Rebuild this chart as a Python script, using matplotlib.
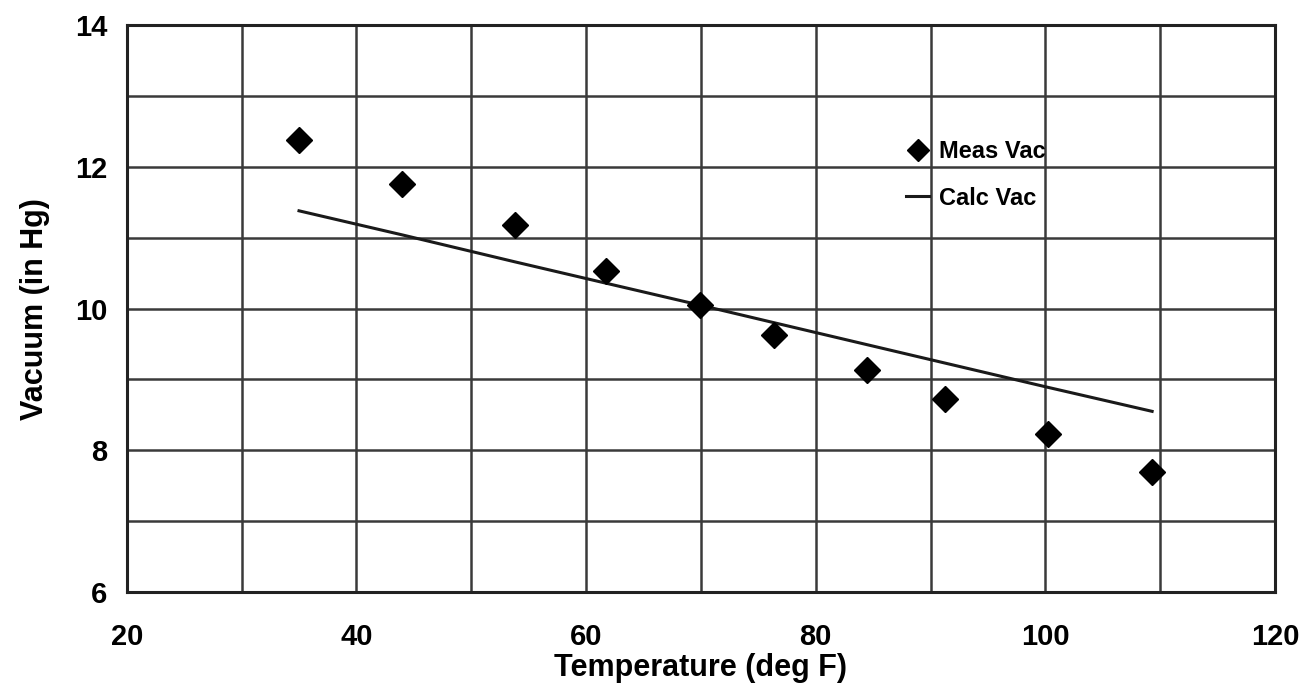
import matplotlib.pyplot as plt
from matplotlib.ticker import MultipleLocator

# Data
temp = [35.0, 44.0, 53.8, 61.7, 69.9, 76.4, 84.5, 91.3, 100.2, 109.3]
meas_vac = [12.38, 11.76, 11.18, 10.53, 10.05, 9.63, 9.14, 8.72, 8.23, 7.69]
calc_vac = [11.38, 11.04, 10.66, 10.36, 10.05, 9.80, 9.49, 9.23, 8.89, 8.55]

x_ticks = [20, 40, 60, 80, 100, 120]
y_ticks = [6, 8, 10, 12, 14]

plt.rcParams['font.family'] = ['Liberation Sans', 'DejaVu Sans']
plt.rcParams['font.weight'] = 'bold'

fig = plt.figure(figsize=(13.07, 6.99), dpi=100)
ax = fig.add_axes([0.097, 0.153, 0.8785, 0.811])

ax.plot(temp, calc_vac, color='#1a1a1a', linewidth=2.2, label='Calc Vac', zorder=3)
ax.plot(temp, meas_vac, linestyle='none', marker='D', markersize=13,
        color='black', label='Meas Vac', zorder=4)

ax.set_xlim(20, 120)
ax.set_ylim(6, 14)
ax.set_xticks(x_ticks)
ax.set_yticks(y_ticks)
ax.xaxis.set_minor_locator(MultipleLocator(10))
ax.yaxis.set_minor_locator(MultipleLocator(1))
ax.grid(True, which='both', color='#3a3a3a', linewidth=1.8)
ax.set_axisbelow(True)
ax.tick_params(which='both', length=0, labelsize=21)
ax.tick_params(axis='x', pad=22)
ax.tick_params(axis='y', pad=14)

for s in ax.spines.values():
    s.set_color('#222222')
    s.set_linewidth(2.2)

ax.set_xlabel('Temperature (deg F)', fontsize=22, fontweight='bold', labelpad=2)
ax.set_ylabel('Vacuum (in Hg)', fontsize=22, fontweight='bold', labelpad=18)

handles, labels = ax.get_legend_handles_labels()
leg = ax.legend(handles[::-1], labels[::-1], loc='upper left',
                bbox_to_anchor=(0.66, 0.835), frameon=False, fontsize=17,
                handlelength=1.0, handletextpad=0.4, labelspacing=1.0,
                markerscale=0.9)

fig.savefig('out.png', dpi=100, facecolor='white')
